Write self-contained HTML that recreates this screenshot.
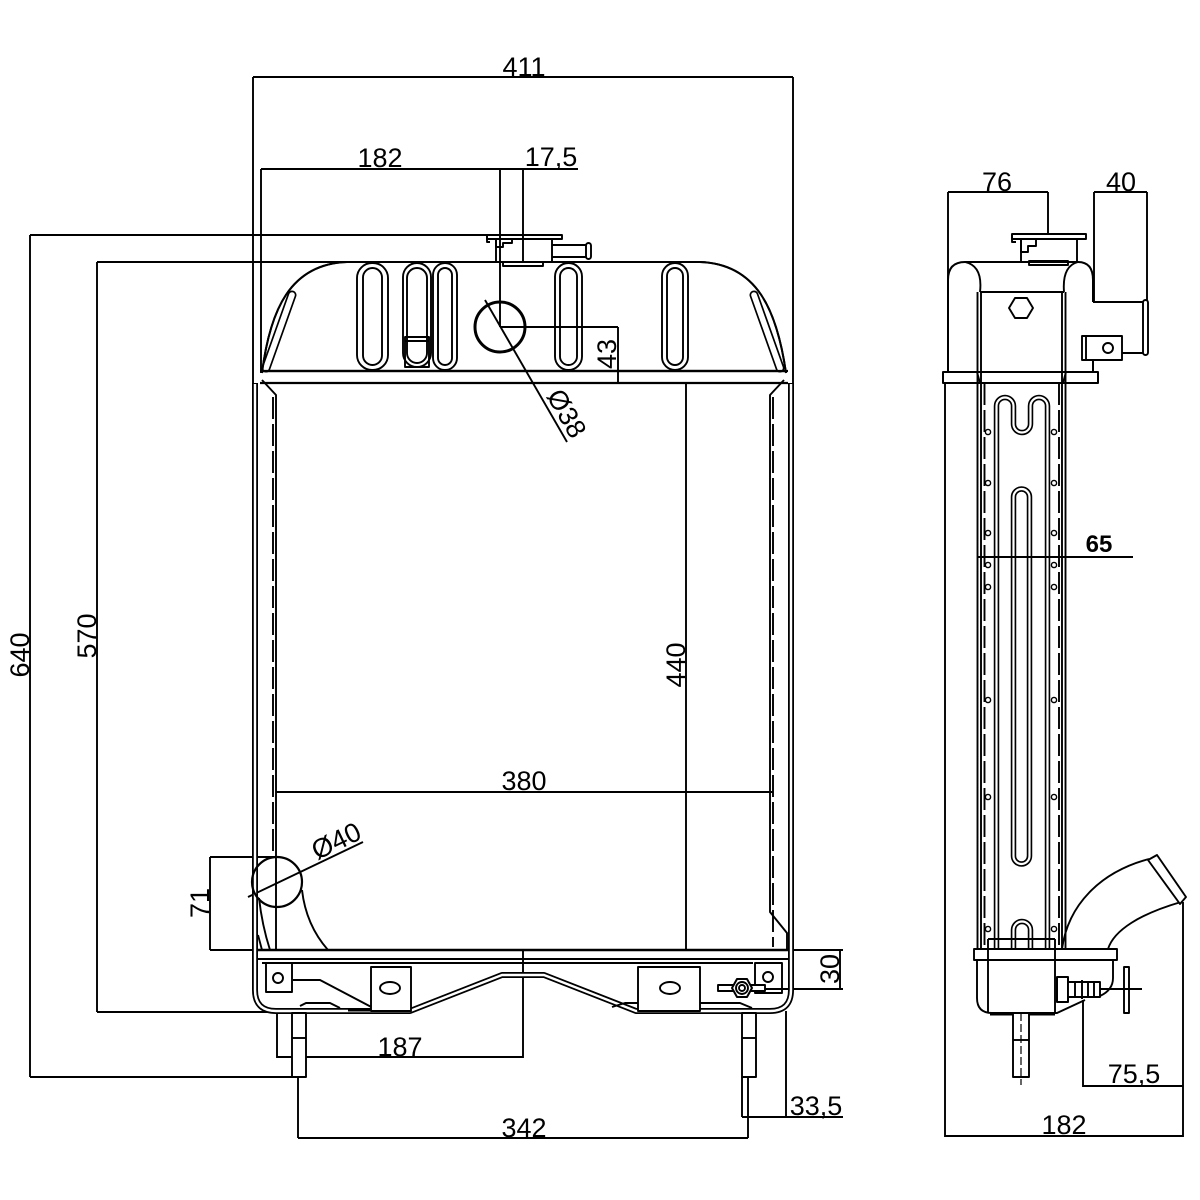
<!DOCTYPE html>
<html><head><meta charset="utf-8"><style>
html,body{margin:0;padding:0;background:#fff;}
svg{display:block;}
text{font-family:"Liberation Sans",Arial,sans-serif;font-size:27px;fill:#000;}
</style></head><body>
<svg width="1200" height="1200" viewBox="0 0 1200 1200" xmlns="http://www.w3.org/2000/svg">
<rect width="1200" height="1200" fill="#fff"/>
<g fill="none" stroke="#000" stroke-width="1.9" stroke-linejoin="round">
<!-- ===== FRONT VIEW: dimension lines ===== -->
<path d="M253 77 H793 M253 77 V383 M793 77 V383"/>
<path d="M261 169 H578 M261 169 V373 M500 169 V327 M523 169 V262"/>
<path d="M30 235 H487 M30 235 V1077 M30 1077 H306"/>
<path d="M97 262 H700 M97 262 V1012 M97 1012 H277"/>
<path d="M500 327 H618 M618 327 V383"/>
<path d="M485 300 L567 442"/>
<path d="M276 792 H773"/>
<path d="M686 383 V950"/>
<path d="M248 897 L363 842"/>
<path d="M210 857 V950 M210 857 H277 M210 950 H262"/>
<path d="M840 950 V989 M790 950 H843 M753 989 H843"/>
<path d="M277 1012 V1058 M523 950 V1058 M277 1057 H523"/>
<path d="M298 1077 V1138 M748 1077 V1138 M298 1138 H748"/>
<path d="M742 1077 V1117 M786 1011 V1117 M742 1117 H843"/>

<!-- top tank -->
<path stroke-width="2" d="M262 373 C270 310 290 264 347 262 M700 262 C757 264 777 310 786 373"/>
<path stroke-width="2.2" d="M260 371 H788 M260 383 H788"/>
<path stroke-width="9" stroke-linecap="round" d="M266 368 L292 295 M780 368 L754 295"/>
<path stroke-width="5.6" stroke="#fff" stroke-linecap="round" d="M266 368 L292 295 M780 368 L754 295"/>
<path stroke-width="2" d="M262 373 C270 310 290 264 347 262 M700 262 C757 264 777 310 786 373"/>
<path stroke-width="2.2" d="M262 371 H786"/>
<!-- slots -->
<rect x="357" y="263" width="31" height="107" rx="15"/>
<rect x="363" y="268" width="19" height="97" rx="9.5"/>
<rect x="403" y="263" width="28" height="104" rx="14"/>
<rect x="407" y="268" width="20" height="95" rx="10"/>
<rect x="405" y="337" width="24" height="30"/>
<path d="M405 341 H429"/>
<rect x="433" y="263" width="24" height="107" rx="12"/>
<rect x="438" y="268" width="14" height="97" rx="7"/>
<rect x="555" y="263" width="27" height="107" rx="13.5"/>
<rect x="560" y="268" width="17" height="97" rx="8.5"/>
<rect x="662" y="263" width="26" height="107" rx="13"/>
<rect x="667" y="268" width="16" height="97" rx="8"/>
<!-- filler cap front -->
<rect x="487" y="235" width="75" height="4"/>
<path d="M487 235 V242 H490 M496 239 V247 H503 V243 H512 V240"/>
<path d="M496 240 V262 M552 239 V262"/>
<rect x="503" y="262" width="40" height="4"/>
<path d="M552 245 H586 M552 257 H586"/>
<rect x="586" y="243" width="5" height="16" rx="2.5"/>
<circle cx="500" cy="327" r="25" stroke-width="3"/>

<!-- core sides -->
<path d="M262 380 L276 395 V950 M784 380 L770 395 V912 L787 933 V950"/>
<path stroke-dasharray="22 5" d="M273 397 V858 M773 397 V947"/>

<!-- outer double outline (sides + bottom tank) -->
<path stroke-width="6" d="M255 383 V990 Q255 1011 276 1011 H410 L502 975 H544 L636 1011 H770 Q791 1011 791 990 V383"/>
<path stroke-width="2.4" stroke="#fff" d="M255 384 V990 Q255 1011 276 1011 H410 L502 975 H544 L636 1011 H770 Q791 1011 791 990 V384"/>

<!-- bottom tank -->
<path stroke-width="2.4" d="M258 950 H788"/>
<path d="M258 959 H788 M262 963 H753"/>
<path d="M293 980 H320 L377 1010 M300 1006 L306 1003 H330 L340 1008 M612 1007 L625 1003 H740 L752 1008"/>
<path stroke-width="3" d="M348 1010 H373"/>
<rect x="266" y="963" width="26" height="29"/>
<circle cx="278" cy="978" r="5"/>
<rect x="755" y="963" width="27" height="30"/>
<circle cx="768" cy="977" r="5"/>
<rect x="371" y="967" width="40" height="44" fill="#fff"/>
<ellipse cx="390" cy="988" rx="10" ry="6"/>
<rect x="638" y="967" width="62" height="44" fill="#fff"/>
<ellipse cx="670" cy="988" rx="10" ry="6"/>
<!-- drain cock -->
<rect x="718" y="985" width="47" height="6" fill="#fff"/>
<polygon points="752,988 747,979 737,979 732,988 737,997 747,997" fill="#fff" stroke-width="2"/>
<circle cx="742" cy="988" r="6"/>
<circle cx="742" cy="988" r="3"/>
<!-- pins -->
<rect x="292" y="1013" width="14" height="64" fill="#fff"/>
<path d="M292 1038 H306"/>
<rect x="742" y="1013" width="14" height="64" fill="#fff"/>
<path d="M742 1038 H756"/>
<!-- inlet pipe front -->
<path d="M259 898 Q262 925 270 950 M302 890 Q306 925 328 950"/>
<circle cx="277" cy="882" r="25" stroke-width="2.2"/>
<path d="M258 935 L262 950"/>

<!-- ===== SIDE VIEW ===== -->
<path d="M948 192 H1048 M948 192 V290 M1048 192 V234"/>
<path d="M1094 192 H1147 M1094 192 V302 M1147 192 V301"/>
<!-- cap -->
<rect x="1012" y="234" width="74" height="5"/>
<path d="M1012 234 V242 H1016 M1021 239 V252 H1028 V246 H1036 V240"/>
<path d="M1021 240 V261 M1077 239 V261"/>
<rect x="1029" y="261" width="39" height="4"/>
<!-- tank -->
<path stroke-width="2" d="M948 372 V280 Q948 262 965 262 H1078 Q1093 262 1093 280 V302 M1093 353 V372"/>
<path d="M965 262 Q983 266 980 292 M1078 262 Q1062 266 1064 292 M980 292 H1064"/>
<polygon points="1033,308 1027,318 1015,318 1009,308 1015,298 1027,298"/>
<!-- outlet pipe -->
<path d="M1093 302 H1143 M1093 353 H1143"/>
<rect x="1143" y="300" width="5" height="55" rx="2.5"/>
<rect x="1082" y="336" width="40" height="24" fill="#fff"/>
<path d="M1086 336 V360"/>
<circle cx="1108" cy="348" r="5"/>
<!-- flange band -->
<rect x="943" y="372" width="155" height="11" stroke-width="2"/>
<path d="M977 372 L980 383 M1066 372 L1063 383"/>
<!-- core -->
<path d="M945 383 V1137 M977.5 292 V949 M981 292 V949 M1062 292 V949 M1065.5 292 V949"/>
<path stroke-dasharray="22 5" d="M984.5 383 V949 M1059 383 V949"/>
<g fill="#fff" stroke-width="1.4">
<circle cx="988" cy="432" r="2.6"/><circle cx="1054" cy="432" r="2.6"/>
<circle cx="988" cy="483" r="2.6"/><circle cx="1054" cy="483" r="2.6"/>
<circle cx="988" cy="533" r="2.6"/><circle cx="1054" cy="533" r="2.6"/>
<circle cx="988" cy="565" r="2.6"/><circle cx="1054" cy="565" r="2.6"/>
<circle cx="988" cy="587" r="2.6"/><circle cx="1054" cy="587" r="2.6"/>
<circle cx="988" cy="700" r="2.6"/><circle cx="1054" cy="700" r="2.6"/>
<circle cx="988" cy="797" r="2.6"/><circle cx="1054" cy="797" r="2.6"/>
<circle cx="988" cy="929" r="2.6"/><circle cx="1054" cy="929" r="2.6"/>
</g>
<!-- serpentine -->
<path stroke-width="5.5" d="M996.5 948 V406 A8.5 8.5 0 0 1 1013.5 406 V424 A8.5 8.5 0 0 0 1030.5 424 V406 A8.5 8.5 0 0 1 1047.5 406 V948 A8.5 8.5 0 0 1 1030.5 948 V930 A8.5 8.5 0 0 0 1013.5 930 V948 A8.5 8.5 0 0 1 996.5 948 Z"/>
<path stroke-width="2.2" stroke="#fff" d="M996.5 948 V406 A8.5 8.5 0 0 1 1013.5 406 V424 A8.5 8.5 0 0 0 1030.5 424 V406 A8.5 8.5 0 0 1 1047.5 406 V948 A8.5 8.5 0 0 1 1030.5 948 V930 A8.5 8.5 0 0 0 1013.5 930 V948 A8.5 8.5 0 0 1 996.5 948 Z"/>
<path stroke-width="5.5" d="M1013.5 856 V497 A8 8 0 0 1 1029.5 497 V856 A8 8 0 0 1 1013.5 856 Z"/>
<path stroke-width="2.2" stroke="#fff" d="M1013.5 856 V497 A8 8 0 0 1 1029.5 497 V856 A8 8 0 0 1 1013.5 856 Z"/>
<path stroke-width="2" d="M977 557 H1133"/>
<!-- side inlet pipe -->
<path stroke-width="1.9" d="M1062 949 C1068 905 1100 872 1149 859 M1108 949 C1114 930 1140 914 1181 902"/>
<polygon points="1148,860 1157,855 1186,897 1180,904" fill="#fff"/>
<!-- bottom tank side -->
<rect x="974" y="949" width="143" height="11" fill="#fff" stroke-width="1.9"/>
<path d="M988 939 H1055 M988 939 V1013 M1055 939 V1013"/>
<path stroke-width="1.9" d="M977 960 V998 Q977 1013 992 1013 H1057 L1085 1000 M1113 960 V978 Q1113 990 1100 996"/>
<path stroke-width="3" d="M990 1014 H1055"/>
<!-- side drain -->
<rect x="1057" y="977" width="11" height="25" fill="#fff" stroke-width="2"/>
<rect x="1068" y="982" width="32" height="15" fill="#fff"/>
<path d="M1075 982 V997 M1082 980 V999 M1088 982 V997 M1094 982 V997"/>
<rect x="1124" y="967" width="5" height="46" fill="#fff"/>
<path d="M1100 989 H1142"/>
<!-- side pin -->
<rect x="1013" y="1013" width="16" height="64" fill="#fff"/>
<path d="M1013 1040 H1029"/>
<path stroke-dasharray="8 3" stroke-width="1.2" d="M1021 1013 V1085"/>
<!-- side dims -->
<path d="M945 1136 H1183 M1183 902 V1137 M1083 1000 V1087 M1083 1086 H1183"/>
</g>

<!-- ===== TEXT ===== -->
<text x="524" y="76" text-anchor="middle">411</text>
<text x="380" y="167" text-anchor="middle">182</text>
<text x="551" y="166" text-anchor="middle">17,5</text>
<text x="997" y="191" text-anchor="middle">76</text>
<text x="1121" y="191" text-anchor="middle">40</text>
<text x="524" y="790" text-anchor="middle">380</text>
<text x="400" y="1056" text-anchor="middle">187</text>
<text x="524" y="1137" text-anchor="middle">342</text>
<text x="816" y="1115" text-anchor="middle">33,5</text>
<text x="1134" y="1083" text-anchor="middle">75,5</text>
<text x="1064" y="1134" text-anchor="middle">182</text>
<text x="1099" y="552" text-anchor="middle" style="font-weight:bold;font-size:24px">65</text>
<text transform="translate(29,655) rotate(-90)" text-anchor="middle">640</text>
<text transform="translate(96,636) rotate(-90)" text-anchor="middle">570</text>
<text transform="translate(685,665) rotate(-90)" text-anchor="middle">440</text>
<text transform="translate(616,354) rotate(-90)" text-anchor="middle">43</text>
<text transform="translate(209,903) rotate(-90)" text-anchor="middle">71</text>
<text transform="translate(839,969) rotate(-90)" text-anchor="middle">30</text>
<text transform="translate(557,419) rotate(60)" text-anchor="middle" y="-2">Ø38</text>
<text transform="translate(341,851) rotate(-25.6)" text-anchor="middle" y="-2">Ø40</text>
</svg>
</body></html>
